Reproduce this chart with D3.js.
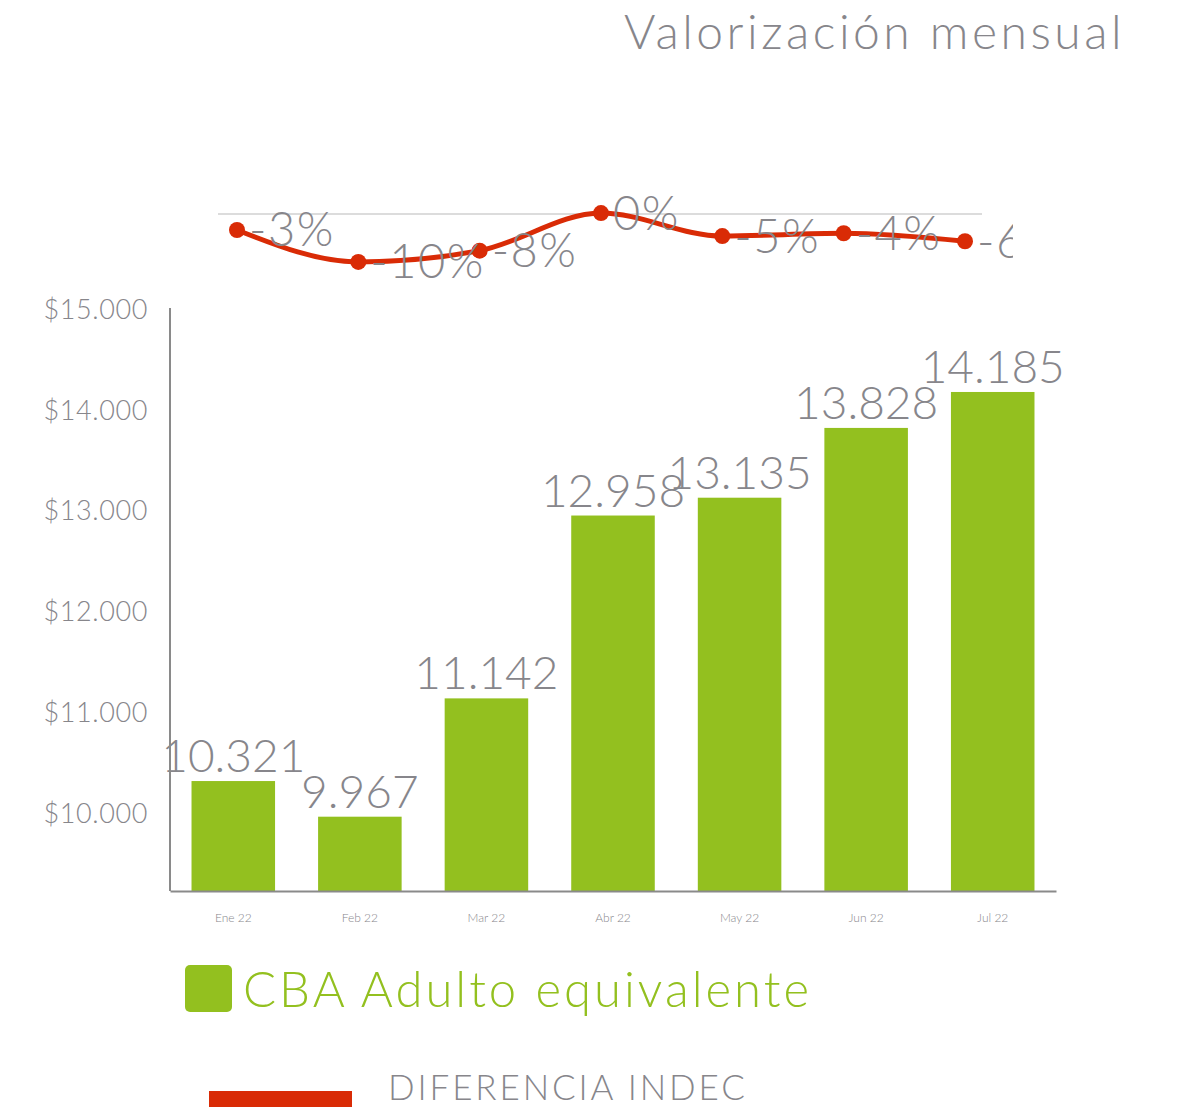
<!DOCTYPE html>
<html lang="es">
<head>
  <meta charset="utf-8">
  <title>Valorización mensual</title>
  <script src="https://d3js.org/d3.v7.min.js"></script>
  <style>
    body { margin: 0; background: #fff; }
    text { font-family: "Lato", "Open Sans", sans-serif; font-weight: 300; }
  </style>
</head>
<body>
<div id="chart"></div>
<script>
  // data
  const months = ["Ene 22", "Feb 22", "Mar 22", "Abr 22", "May 22", "Jun 22", "Jul 22"];
  const cba = [10321, 9967, 11142, 12958, 13135, 13828, 14185];
  const diffIndec = [-3.4, -10.2, -7.8, 0.2, -4.7, -4.1, -5.8];
  const yTicks = [10000, 11000, 12000, 13000, 14000, 15000];

  const width = 1177, height = 1107;
  const grey = "#87868b", green = "#93c01f", red = "#d92b06";

  const svg = d3.select("#chart").append("svg")
    .attr("width", width)
    .attr("height", height);

  const num = d3.formatLocale({ decimal: ",", thousands: ".", grouping: [3], currency: ["$", ""] });
  const fmt = num.format(",");

  // title
  svg.append("text")
    .attr("x", 1125).attr("y", 49)
    .attr("text-anchor", "end")
    .attr("fill", grey)
    .style("font-size", "48px")
    .style("letter-spacing", "3.5px")
    .text("Valorización mensual");

  // ---- bar chart ----
  const x = d3.scaleBand().domain(months).range([170, 1056]).paddingInner(0.34).paddingOuter(0.17);
  const y = d3.scaleLinear().domain([9229, 15019]).range([891, 308]);

  svg.selectAll("rect.bar")
    .data(cba)
    .join("rect")
    .attr("class", "bar")
    .attr("x", (d, i) => x(months[i]))
    .attr("y", d => y(d))
    .attr("width", x.bandwidth())
    .attr("height", d => y.range()[0] - y(d))
    .attr("fill", green);

  svg.selectAll("text.val")
    .data(cba)
    .join("text")
    .attr("class", "val")
    .attr("x", (d, i) => x(months[i]) + x.bandwidth() / 2)
    .attr("y", d => y(d) - 9)
    .attr("text-anchor", "middle")
    .attr("fill", grey)
    .style("font-size", "46px")
    .text(d => fmt(d));

  // y axis
  const yAxis = svg.append("g")
    .attr("transform", "translate(170,0)")
    .call(d3.axisLeft(y).tickValues(yTicks).tickSize(0).tickPadding(22).tickFormat(d => "$" + fmt(d)));
  yAxis.select(".domain").attr("stroke", "#8a8a8a").attr("stroke-width", 2)
    .attr("d", `M0,${y.range()[1]}V${y.range()[0]}`);
  yAxis.selectAll("text").attr("fill", grey).style("font-size", "27px").style("letter-spacing", "0.6px");

  // x axis
  const xAxis = svg.append("g")
    .attr("transform", `translate(0,${y.range()[0]})`)
    .call(d3.axisBottom(x).tickSize(0).tickPadding(22));
  xAxis.select(".domain").attr("stroke", "#8a8a8a").attr("stroke-width", 2);
  xAxis.selectAll("text").attr("fill", grey).style("font-size", "12px");

  // ---- line chart (difference with INDEC) ----
  const xl = d3.scalePoint().domain(months).range([237, 965]);
  const yl = d3.scaleLinear().domain([-10, 0]).range([261, 214]);

  svg.append("clipPath").attr("id", "clip")
    .append("rect").attr("x", 0).attr("y", 150).attr("width", 1013).attr("height", 140);

  const lg = svg.append("g").attr("clip-path", "url(#clip)");

  lg.append("line")
    .attr("x1", 218).attr("x2", 982)
    .attr("y1", yl(0)).attr("y2", yl(0))
    .attr("stroke", "#d0d0d0").attr("stroke-width", 1.5);

  lg.append("path")
    .datum(diffIndec)
    .attr("fill", "none")
    .attr("stroke", red)
    .attr("stroke-width", 5)
    .attr("d", d3.line()
      .x((d, i) => xl(months[i]))
      .y(d => yl(d))
      .curve(d3.curveMonotoneX));

  lg.selectAll("circle")
    .data(diffIndec)
    .join("circle")
    .attr("cx", (d, i) => xl(months[i]))
    .attr("cy", d => yl(d))
    .attr("r", 8)
    .attr("fill", red);

  lg.selectAll("text.pct")
    .data(diffIndec)
    .join("text")
    .attr("class", "pct")
    .attr("x", (d, i) => xl(months[i]) + 12)
    .attr("y", d => yl(d))
    .attr("dy", "0.35em")
    .attr("fill", grey)
    .style("font-size", "47px")
    .style("letter-spacing", "1.5px")
    .text(d => Math.round(d) + "%");

  // ---- legend ----
  svg.append("rect")
    .attr("x", 185).attr("y", 965).attr("width", 47).attr("height", 47)
    .attr("rx", 5).attr("fill", green);
  svg.append("text")
    .attr("x", 243).attr("y", 1007)
    .attr("fill", green)
    .style("font-size", "49px")
    .style("letter-spacing", "3px")
    .text("CBA Adulto equivalente");

  svg.append("rect")
    .attr("x", 209).attr("y", 1091).attr("width", 143).attr("height", 20)
    .attr("fill", red);
  svg.append("text")
    .attr("x", 388).attr("y", 1100)
    .attr("fill", grey)
    .style("font-size", "35px")
    .style("letter-spacing", "2.9px")
    .text("DIFERENCIA INDEC");
</script>
</body>
</html>
